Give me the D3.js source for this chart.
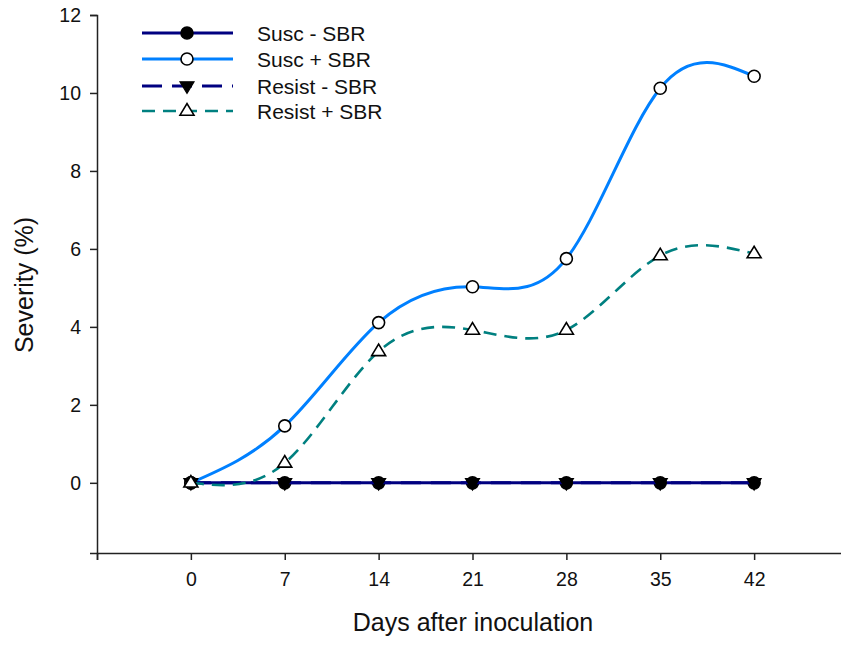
<!DOCTYPE html>
<html>
<head>
<meta charset="utf-8">
<script src="https://cdn.jsdelivr.net/npm/d3@7"></script>
<style>
  html, body { margin: 0; padding: 0; background: #fff; }
  svg { display: block; font-family: Arial, "Liberation Sans", sans-serif; }
</style>
</head>
<body>
<svg id="chart" width="841" height="645"></svg>
<script>
// ---- data ----
const days = [0, 7, 14, 21, 28, 35, 42];
const suscMinus = [0, 0, 0, 0, 0, 0, 0];
const suscPlus = [0, 1.46, 4.11, 5.03, 5.75, 10.12, 10.43];
const resistMinus = [0, 0, 0, 0, 0, 0, 0];
const resistPlus = [0, 0.51, 3.37, 3.92, 3.92, 5.83, 5.88];
const seriesNames = ["Susc - SBR", "Susc + SBR", "Resist - SBR", "Resist + SBR"];
const xTicks = [-7, 0, 7, 14, 21, 28, 35, 42];
const xTickLabels = ["", "0", "7", "14", "21", "28", "35", "42"];
const yTicks = [0, 2, 4, 6, 8, 10, 12];

const seriesValues = [suscMinus, suscPlus, resistMinus, resistPlus];
const styles = [
  {color: "#000080", width: 3, dash: null, marker: "circle", fill: "#000"},
  {color: "#0080ff", width: 3, dash: null, marker: "circle", fill: "#fff"},
  {color: "#000080", width: 3, dash: "20,10", marker: "triDown", fill: "#000"},
  {color: "#008080", width: 2.6, dash: "13,8", marker: "triUp", fill: "#fff"}
];

const svg = d3.select("#chart");
const x = d3.scaleLinear().domain([-7, 49]).range([97, 848]);
const y = d3.scaleLinear().domain([-1.8, 12]).range([553, 15]);

// axes
const yAxis = d3.axisLeft(y).tickValues(yTicks).tickSize(7).tickPadding(9).tickFormat(d3.format("d"));
const gy = svg.append("g").attr("transform", `translate(${x(-7)},0)`).call(yAxis);
const xAxis = d3.axisBottom(x).tickValues(xTicks).tickSize(7).tickPadding(12)
  .tickFormat((d, i) => xTickLabels[i]);
const gx = svg.append("g").attr("transform", `translate(0,${y(-1.8)})`).call(xAxis);
[gx, gy].forEach(g => {
  g.select(".domain").attr("stroke", "#222").attr("stroke-width", 1.5);
  g.selectAll(".tick line").attr("stroke", "#222").attr("stroke-width", 1.5);
  g.selectAll(".tick text").attr("fill", "#111").style("font-size", "19.5px")
    .style("font-family", "Arial, 'Liberation Sans', sans-serif");
});
gx.selectAll(".tick text").attr("dy", "0.71em");

// axis titles
svg.append("text").attr("x", 473).attr("y", 631).attr("text-anchor", "middle")
  .style("font-size", "25px").attr("fill", "#111").text("Days after inoculation");
svg.append("text").attr("transform", "translate(33,285) rotate(-90)").attr("text-anchor", "middle")
  .style("font-size", "25px").attr("fill", "#111").text("Severity (%)");

// markers
function drawMarker(g, type, cx, cy, fill) {
  if (type === "circle") {
    g.append("circle").attr("cx", cx).attr("cy", cy).attr("r", 6)
      .attr("fill", fill).attr("stroke", "#000").attr("stroke-width", 1.6);
  } else if (type === "triDown") {
    const s = 7;
    g.append("path").attr("d", `M${cx - s},${cy - s * 0.6}L${cx + s},${cy - s * 0.6}L${cx},${cy + s * 1.05}Z`)
      .attr("fill", fill).attr("stroke", "#000").attr("stroke-width", 1.2);
  } else {
    const s = 7;
    g.append("path").attr("d", `M${cx - s},${cy + s * 0.6}L${cx + s},${cy + s * 0.6}L${cx},${cy - s * 1.05}Z`)
      .attr("fill", fill).attr("stroke", "#000").attr("stroke-width", 1.6);
  }
}

const line = d3.line().x(d => x(d[0])).y(d => y(d[1])).curve(d3.curveNatural);

seriesValues.forEach((vals, i) => {
  const st = styles[i];
  const pts = days.map((d, j) => [d, vals[j]]);
  const g = svg.append("g");
  g.append("path").attr("d", line(pts)).attr("fill", "none")
    .attr("stroke", st.color).attr("stroke-width", st.width)
    .attr("stroke-dasharray", st.dash);
  pts.forEach(p => drawMarker(g, st.marker, x(p[0]), y(p[1]), st.fill));
});

// legend
const legendY = [33, 59, 86, 111];
seriesNames.forEach((name, i) => {
  const st = styles[i];
  const g = svg.append("g");
  g.append("line").attr("x1", 142).attr("x2", 233).attr("y1", legendY[i]).attr("y2", legendY[i])
    .attr("stroke", st.color).attr("stroke-width", st.width).attr("stroke-dasharray", st.dash);
  drawMarker(g, st.marker, 187, legendY[i], st.fill);
  g.append("text").attr("x", 257).attr("y", legendY[i]).attr("dy", "0.36em")
    .style("font-size", "21px").attr("fill", "#111").text(name);
});
</script>
</body>
</html>
